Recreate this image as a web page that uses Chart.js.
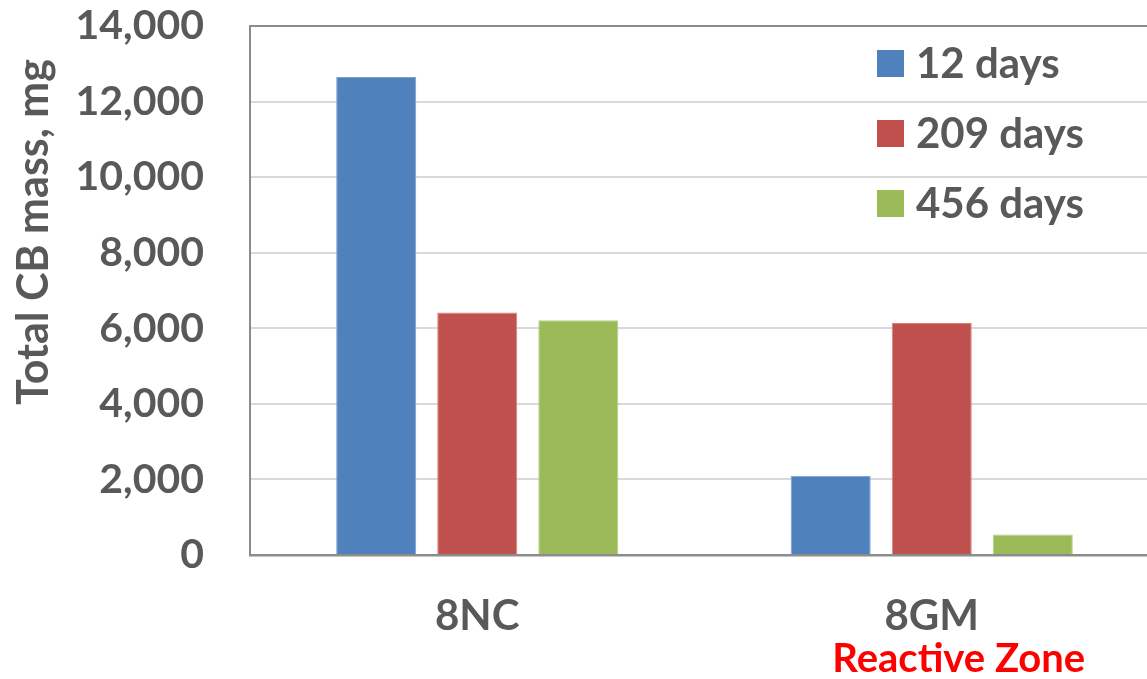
<!DOCTYPE html>
<html>
<head>
<meta charset="utf-8">
<script src="https://cdn.jsdelivr.net/npm/chart.js@4/dist/chart.umd.min.js"></script>
<style>
  html, body { margin: 0; padding: 0; background: #fff; overflow: hidden; }
  #wrap { position: relative; width: 1180px; height: 679px; }
</style>
</head>
<body>
<div id="wrap"><canvas id="chart"></canvas></div>
<script>
// Total CB mass per sampling location after each elapsed time
const categories = ['8NC', '8GM'];
const seriesLabels = ['12 days', '209 days', '456 days'];
const mass12 = [12650, 2100];
const mass209 = [6420, 6140];
const mass456 = [6210, 540];
const yTicks = [0, 2000, 4000, 6000, 8000, 10000, 12000, 14000];

const fillColors = ['#4F81BD', '#C0504D', '#9BBB59'];
const edgeColors = ['#7C9FCF', '#D8837F', '#B7CF88'];
const textGray = '#595959';
const FONT = 'Lato, "Open Sans", sans-serif';

const seriesValues = [mass12, mass209, mass456];

// Legend, axis title and zone note drawn on top of the chart area
const annotations = {
  id: 'annotations',
  afterDraw(chart) {
    const ctx = chart.ctx;
    ctx.save();
    // legend
    chart.data.datasets.forEach((ds, i) => {
      const cy = 63 + i * 70;
      ctx.fillStyle = ds.backgroundColor;
      ctx.fillRect(877, cy - 13, 27, 27);
      ctx.fillStyle = textGray;
      ctx.font = 'bold 42px ' + FONT;
      ctx.textAlign = 'left';
      ctx.textBaseline = 'middle';
      ctx.fillText(ds.label, 916, cy + 1);
    });
    // y-axis title
    ctx.translate(34, 232);
    ctx.rotate(-Math.PI / 2);
    ctx.font = 'bold 43px ' + FONT;
    ctx.fillStyle = textGray;
    ctx.textAlign = 'center';
    ctx.textBaseline = 'middle';
    ctx.fillText('Total CB mass, mg', 0, 0);
    ctx.setTransform(1, 0, 0, 1, 0, 0);
    // zone note under the second category
    const x = chart.scales.x.getPixelForValue(1);
    ctx.font = 'bold 40px ' + FONT;
    ctx.fillStyle = '#FF0000';
    ctx.textAlign = 'center';
    ctx.textBaseline = 'alphabetic';
    ctx.fillText('Reactive Zone', x + 27, 672);
    ctx.restore();
  }
};

new Chart(document.getElementById('chart'), {
  type: 'bar',
  data: {
    labels: categories,
    datasets: seriesLabels.map((label, i) => ({
      label: label,
      data: seriesValues[i],
      backgroundColor: fillColors[i],
      borderColor: edgeColors[i],
      borderWidth: 1,
      categoryPercentage: 0.667,
      barPercentage: 0.792
    }))
  },
  options: {
    responsive: true,
    maintainAspectRatio: false,
    animation: false,
    layout: { padding: { top: 26, right: 21, left: 0, bottom: 0 } },
    plugins: {
      legend: { display: false },
      tooltip: { enabled: false }
    },
    scales: {
      x: {
        grid: { display: false, drawTicks: false },
        border: { display: true, color: '#8C8C8C', width: 2.5 },
        ticks: {
          color: textGray,
          font: { family: FONT, size: 42, weight: 'bold' },
          padding: 36
        },
        afterFit(scale) {
          scale.height = 124;
          scale.paddingLeft = 0;
          scale.paddingRight = 0;
        }
      },
      y: {
        min: 0,
        max: 14000,
        afterBuildTicks(scale) { scale.ticks = yTicks.map(v => ({ value: v })); },
        grid: {
          drawTicks: false,
          lineWidth: 2,
          color: ctx => (ctx.tick && ctx.tick.value === 14000) ? '#8C8C8C' : '#D9D9D9'
        },
        border: { display: true, color: '#8C8C8C', width: 2 },
        ticks: {
          color: textGray,
          font: { family: FONT, size: 41, weight: 'bold' },
          padding: 46,
          callback: v => v.toLocaleString('en-US')
        },
        afterFit(scale) {
          scale.width = 250;
          scale.paddingTop = 0;
          scale.paddingBottom = 0;
        }
      }
    }
  },
  plugins: [annotations]
});
</script>
</body>
</html>
